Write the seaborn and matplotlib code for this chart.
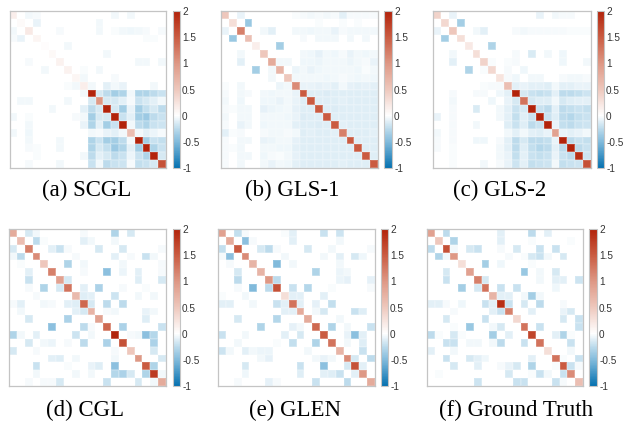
import matplotlib
matplotlib.use("Agg")
import numpy as np
import matplotlib.pyplot as plt
import seaborn as sns
from matplotlib.colors import LinearSegmentedColormap

# ─────────────────────────────────────────────
# DATA  (20x20 symmetric matrices: diagonal + upper-triangle entries)
# ─────────────────────────────────────────────
N = 20
titles = ["(a) SCGL", "(b) GLS-1", "(c) GLS-2", "(d) CGL", "(e) GLEN", "(f) Ground Truth"]
cbar_ticks = [-1, -0.5, 0, 0.5, 1, 1.5, 2]
cbar_labels = ["-1", "-0.5", "0", "0.5", "1", "1.5", "2"]

diag_a = [0.15, 0.05, 0.2, 0.1, 0.03, 0.06, 0.12, 0.12, 0.08, 0.15,
          2.0, 1.0, 2.0, 2.0, 2.0, 0.6, 2.0, 2.0, 2.0, 1.6]
edges_a = [
    (0, 2, -0.05), (0, 3, -0.03), (0, 13, -0.05), (0, 15, -0.04), (1, 3, -0.08),
    (1, 11, -0.05), (2, 6, -0.03), (2, 11, -0.04), (2, 13, -0.02), (2, 14, -0.05),
    (2, 15, -0.06), (2, 16, -0.04), (2, 17, -0.03), (2, 19, -0.03), (3, 17, -0.02),
    (3, 18, -0.02), (4, 7, -0.05), (5, 12, -0.05), (6, 16, -0.04), (6, 17, -0.04),
    (6, 19, -0.04), (7, 9, -0.02), (7, 11, -0.05), (8, 9, -0.04), (8, 13, -0.03),
    (9, 10, -0.05), (9, 12, -0.1), (9, 13, -0.04), (9, 14, -0.08), (9, 18, -0.04),
    (10, 11, -0.15), (10, 12, -0.25), (10, 13, -0.35), (10, 14, -0.3), (10, 15, -0.05),
    (10, 16, -0.3), (10, 17, -0.3), (10, 18, -0.25), (10, 19, -0.2),
    (11, 12, -0.15), (11, 13, -0.15), (11, 14, -0.1), (11, 15, -0.03), (11, 16, -0.2),
    (11, 17, -0.15), (11, 18, -0.1), (11, 19, -0.05),
    (12, 13, -0.15), (12, 14, -0.35), (12, 15, -0.08), (12, 16, -0.35), (12, 17, -0.22),
    (12, 18, -0.15), (12, 19, -0.25),
    (13, 14, -0.2), (13, 15, -0.1), (13, 16, -0.35), (13, 17, -0.38), (13, 18, -0.25),
    (13, 19, -0.2),
    (14, 15, -0.05), (14, 16, -0.25), (14, 17, -0.3), (14, 18, -0.2), (14, 19, -0.18),
    (15, 16, -0.05), (15, 17, -0.1), (15, 18, -0.07), (15, 19, -0.03),
    (16, 17, -0.35), (16, 18, -0.2), (16, 19, -0.22),
    (17, 18, -0.3), (17, 19, -0.2),
    (18, 19, -0.15),
]

diag_b = [0.5, 0.3, 1.2, 0.6, 0.15, 0.5, 0.8, 0.7, 0.5, 1.1,
          1.5, 1.5, 1.5, 1.5, 1.5, 1.2, 1.5, 1.5, 1.5, 1.5]
edges_b = [
    (0, 2, -0.08), (1, 3, -0.4), (2, 5, -0.05), (2, 6, -0.1), (4, 7, -0.35),
    (6, 7, -0.05), (6, 8, -0.05), (7, 9, -0.07), (8, 9, -0.04),
    (0, 9, -0.02), (0, 10, -0.03), (0, 11, -0.04), (0, 12, -0.03), (0, 13, -0.05),
    (0, 14, -0.03), (0, 15, -0.1), (0, 16, -0.03), (0, 17, -0.03), (0, 18, -0.03),
    (0, 19, -0.03), (1, 12, -0.02), (1, 15, -0.02), (1, 17, -0.02),
    (2, 9, -0.04), (2, 10, -0.05), (2, 11, -0.06), (2, 12, -0.05), (2, 13, -0.05),
    (2, 14, -0.08), (2, 15, -0.03), (2, 16, -0.05), (2, 17, -0.04), (2, 18, -0.04),
    (2, 19, -0.04), (3, 10, -0.03), (3, 12, -0.05), (3, 13, -0.04), (3, 14, -0.05),
    (3, 16, -0.05), (3, 18, -0.04),
    (5, 10, -0.05), (5, 11, -0.06), (5, 12, -0.09), (5, 13, -0.05), (5, 14, -0.06),
    (5, 15, -0.03), (5, 16, -0.08), (5, 17, -0.05), (5, 18, -0.06), (5, 19, -0.05),
    (6, 10, -0.06), (6, 11, -0.06), (6, 12, -0.07), (6, 13, -0.05), (6, 14, -0.05),
    (6, 15, -0.04), (6, 16, -0.07), (6, 17, -0.05), (6, 18, -0.03), (6, 19, -0.08),
    (7, 10, -0.05), (7, 11, -0.08), (7, 12, -0.06), (7, 13, -0.04), (7, 14, -0.05),
    (7, 15, -0.04), (7, 16, -0.05), (7, 17, -0.06), (7, 18, -0.02), (7, 19, -0.05),
    (8, 10, -0.05), (8, 11, -0.04), (8, 12, -0.05), (8, 13, -0.06), (8, 14, -0.05),
    (8, 15, -0.03), (8, 16, -0.05), (8, 17, -0.06), (8, 18, -0.05), (8, 19, -0.06),
    (9, 10, -0.08), (9, 11, -0.08), (9, 12, -0.09), (9, 13, -0.08), (9, 14, -0.1),
    (9, 15, -0.04), (9, 16, -0.09), (9, 17, -0.1), (9, 18, -0.09), (9, 19, -0.1),
    (10, 11, -0.12), (10, 12, -0.12), (10, 13, -0.13), (10, 14, -0.12), (10, 15, -0.11),
    (10, 16, -0.12), (10, 17, -0.12), (10, 18, -0.12), (10, 19, -0.12),
    (11, 12, -0.12), (11, 13, -0.12), (11, 14, -0.12), (11, 15, -0.1), (11, 16, -0.12),
    (11, 17, -0.12), (11, 18, -0.12), (11, 19, -0.12),
    (12, 13, -0.12), (12, 14, -0.13), (12, 15, -0.11), (12, 16, -0.12), (12, 17, -0.12),
    (12, 18, -0.12), (12, 19, -0.12),
    (13, 14, -0.12), (13, 15, -0.11), (13, 16, -0.12), (13, 17, -0.12), (13, 18, -0.12),
    (13, 19, -0.12),
    (14, 15, -0.1), (14, 16, -0.12), (14, 17, -0.12), (14, 18, -0.12), (14, 19, -0.12),
    (15, 16, -0.11), (15, 17, -0.11), (15, 18, -0.11), (15, 19, -0.1),
    (16, 17, -0.12), (16, 18, -0.12), (16, 19, -0.12),
    (17, 18, -0.12), (17, 19, -0.12),
    (18, 19, -0.12),
]

diag_c = [0.4, 0.35, 0.5, 0.3, 0.2, 0.3, 0.4, 0.35, 0.25, 0.6,
          2.0, 1.3, 2.0, 2.0, 2.0, 0.9, 2.0, 2.0, 1.9, 1.6]
edges_c = [
    (0, 2, -0.08), (1, 3, -0.35), (2, 5, -0.04), (2, 6, -0.1), (4, 7, -0.3),
    (6, 7, -0.02), (8, 9, -0.03), (6, 9, -0.02),
    (0, 13, -0.08), (0, 15, -0.05), (0, 16, -0.03), (0, 17, -0.03),
    (2, 10, -0.03), (2, 11, -0.04), (2, 12, -0.03), (2, 13, -0.03), (2, 14, -0.03),
    (2, 15, -0.03), (2, 16, -0.03), (2, 17, -0.02), (2, 18, -0.02), (2, 19, -0.02),
    (5, 10, -0.03), (5, 12, -0.14), (5, 14, -0.04), (5, 16, -0.06),
    (6, 10, -0.03), (6, 16, -0.06), (6, 19, -0.05), (7, 9, -0.03), (7, 11, -0.06),
    (8, 10, -0.06), (8, 12, -0.05), (8, 13, -0.05), (8, 16, -0.03), (8, 17, -0.04),
    (8, 18, -0.04), (8, 19, -0.03),
    (9, 10, -0.1), (9, 11, -0.08), (9, 12, -0.1), (9, 13, -0.1), (9, 14, -0.12),
    (9, 15, -0.05), (9, 16, -0.1), (9, 17, -0.1), (9, 18, -0.08), (9, 19, -0.08),
    (10, 11, -0.15), (10, 12, -0.2), (10, 13, -0.22), (10, 14, -0.2), (10, 15, -0.1),
    (10, 16, -0.25), (10, 17, -0.25), (10, 18, -0.22), (10, 19, -0.18),
    (11, 12, -0.15), (11, 13, -0.12), (11, 14, -0.12), (11, 15, -0.05), (11, 16, -0.15),
    (11, 17, -0.12), (11, 18, -0.1), (11, 19, -0.1),
    (12, 13, -0.2), (12, 14, -0.25), (12, 15, -0.1), (12, 16, -0.25), (12, 17, -0.22),
    (12, 18, -0.2), (12, 19, -0.22),
    (13, 14, -0.2), (13, 15, -0.12), (13, 16, -0.25), (13, 17, -0.28), (13, 18, -0.22),
    (13, 19, -0.2),
    (14, 15, -0.08), (14, 16, -0.22), (14, 17, -0.25), (14, 18, -0.2), (14, 19, -0.18),
    (15, 16, -0.08), (15, 17, -0.1), (15, 18, -0.08), (15, 19, -0.05),
    (16, 17, -0.25), (16, 18, -0.2), (16, 19, -0.22),
    (17, 18, -0.25), (17, 19, -0.2),
    (18, 19, -0.18),
]

diag_d = [0.8, 0.6, 1.2, 1.1, 0.5, 1.2, 0.9, 1.3, 0.65, 1.4,
          0.7, 0.9, 1.4, 2.0, 1.6, 0.5, 1.0, 1.5, 1.8, 0.8]
edges_d = [
    (0, 2, -0.15), (0, 3, -0.04), (0, 9, -0.03), (0, 13, -0.3), (0, 15, -0.15),
    (1, 3, -0.25), (1, 4, -0.02), (1, 9, -0.1), (1, 10, -0.05), (1, 13, -0.05),
    (2, 5, -0.1), (2, 6, -0.2), (2, 7, -0.03), (2, 11, -0.15), (2, 14, -0.15), (2, 19, -0.03),
    (3, 8, -0.03), (3, 13, -0.1), (3, 15, -0.03), (3, 17, -0.2), (3, 18, -0.05),
    (4, 7, -0.3), (4, 9, -0.05), (4, 14, -0.04), (4, 19, -0.03),
    (5, 9, -0.03), (5, 12, -0.45), (5, 14, -0.07), (5, 16, -0.1), (5, 19, -0.03),
    (6, 7, -0.15), (6, 16, -0.12), (6, 19, -0.15),
    (7, 9, -0.1), (7, 11, -0.32), (7, 14, -0.03), (7, 17, -0.02),
    (8, 9, -0.12), (8, 10, -0.1), (8, 13, -0.18), (8, 16, -0.04), (8, 18, -0.04),
    (9, 10, -0.15), (9, 12, -0.25), (9, 14, -0.25),
    (10, 12, -0.03), (10, 13, -0.05), (10, 17, -0.08), (10, 18, -0.05),
    (11, 17, -0.12),
    (12, 14, -0.32), (12, 19, -0.2),
    (13, 15, -0.03), (13, 16, -0.05), (13, 17, -0.45), (13, 18, -0.28),
    (14, 18, -0.32), (15, 18, -0.15), (16, 19, -0.15), (17, 18, -0.3), (18, 19, -0.05),
]

diag_e = [0.9, 0.8, 1.5, 1.1, 0.7, 0.7, 1.0, 1.6, 0.3, 1.3,
          0.8, 0.8, 1.4, 1.5, 1.3, 0.7, 1.1, 1.6, 1.0, 0.8]
edges_e = [
    (0, 2, -0.22), (0, 3, -0.03), (0, 8, -0.02), (0, 9, -0.1), (0, 13, -0.2), (0, 15, -0.18),
    (1, 3, -0.45), (1, 4, -0.03), (1, 9, -0.1), (1, 15, -0.04),
    (2, 5, -0.15), (2, 6, -0.25), (2, 7, -0.03), (2, 11, -0.15), (2, 14, -0.05), (2, 19, -0.03),
    (3, 8, -0.05), (3, 13, -0.04), (3, 15, -0.1), (3, 17, -0.15), (3, 18, -0.06),
    (4, 7, -0.5), (4, 9, -0.05), (4, 15, -0.04),
    (5, 12, -0.3), (5, 15, -0.07), (5, 16, -0.05),
    (6, 7, -0.25), (6, 15, -0.07), (6, 16, -0.09), (6, 19, -0.09),
    (7, 9, -0.2), (7, 11, -0.28), (7, 14, -0.02), (7, 19, -0.03),
    (8, 9, -0.1), (8, 10, -0.1), (8, 13, -0.1),
    (9, 10, -0.1), (9, 12, -0.09), (9, 14, -0.22),
    (10, 12, -0.05), (10, 13, -0.15), (10, 17, -0.2), (10, 18, -0.12),
    (11, 15, -0.05),
    (12, 14, -0.3), (12, 16, -0.04), (12, 19, -0.2),
    (13, 16, -0.08), (13, 17, -0.45), (13, 18, -0.1),
    (14, 16, -0.04), (14, 18, -0.12),
    (15, 18, -0.2), (16, 17, -0.15), (16, 19, -0.25), (17, 18, -0.1),
]

diag_f = [0.9, 0.5, 1.6, 1.0, 0.3, 0.9, 1.2, 1.3, 0.7, 1.9,
          1.2, 0.35, 1.3, 1.7, 1.3, 0.3, 1.3, 1.5, 1.1, 0.6]
edges_f = [
    (0, 2, -0.25), (0, 9, -0.1), (0, 13, -0.25), (0, 15, -0.1),
    (1, 3, -0.3), (1, 9, -0.1), (1, 13, -0.02), (1, 18, -0.02),
    (2, 3, -0.04), (2, 5, -0.15), (2, 6, -0.2), (2, 9, -0.03), (2, 11, -0.15),
    (2, 14, -0.2), (2, 16, -0.2),
    (3, 10, -0.03), (3, 12, -0.02), (3, 13, -0.15), (3, 14, -0.2), (3, 15, -0.04), (3, 17, -0.15),
    (4, 7, -0.35), (4, 9, -0.06), (4, 13, -0.02),
    (5, 12, -0.4), (5, 14, -0.04), (5, 16, -0.15),
    (6, 7, -0.15), (6, 14, -0.04), (6, 16, -0.1), (6, 17, -0.1), (6, 19, -0.18),
    (7, 9, -0.2), (7, 11, -0.2), (7, 16, -0.06),
    (8, 9, -0.1), (8, 10, -0.1), (8, 12, -0.04), (8, 13, -0.35), (8, 14, -0.04),
    (9, 10, -0.2), (9, 12, -0.15), (9, 14, -0.25), (9, 17, -0.03),
    (10, 13, -0.1), (10, 17, -0.08), (10, 18, -0.15),
    (11, 17, -0.15), (11, 19, -0.2),
    (12, 14, -0.2), (12, 19, -0.2),
    (13, 16, -0.1), (13, 17, -0.3), (13, 18, -0.02),
    (14, 18, -0.2), (15, 18, -0.05),
    (16, 17, -0.02), (16, 19, -0.2), (17, 18, -0.2), (17, 19, -0.03),
]

# ─────────────────────────────────────────────
# HELPERS
# ─────────────────────────────────────────────

def build(diag, edges):
    m = np.diag(np.array(diag, dtype=float))
    for i, j, w in edges:
        m[i, j] = w
        m[j, i] = w
    return m


def px_rect(x0, y0, x1, y1, W=623, H=425):
    return [x0 / W, 1 - y1 / H, (x1 - x0) / W, (y1 - y0) / H]


mats = [build(diag_a, edges_a), build(diag_b, edges_b), build(diag_c, edges_c),
        build(diag_d, edges_d), build(diag_e, edges_e), build(diag_f, edges_f)]

# pixel boxes: heatmap (x0, y0, x1, y1), colorbar x0, x1, caption centre x
heat_boxes = [(9.5, 11, 166, 168), (221, 11, 378, 168), (433, 11, 591, 168),
              (9, 229, 166, 386), (218, 229, 375, 386), (427, 229, 583, 386)]
cbar_x = [(173, 180), (384, 392), (597, 604), (173, 180), (381, 388), (589, 597)]
cap_x = [87, 292, 500, 85, 295, 516]

# blue-white-red, white at 0 (value range -1 .. 2); mid-tones a bit saturated
cmap = LinearSegmentedColormap.from_list("rdbu_asym", [
    (0.0, "#0571b0"),
    (1 / 6, "#82bbdc"),
    (0.25, "#bcdbec"),
    (1 / 3, "#ffffff"),
    (0.5, "#eec8bd"),
    (2 / 3, "#de9885"),
    (5 / 6, "#ca5c42"),
    (1.0, "#b2230b"),
])

# ─────────────────────────────────────────────
# PLOT
# ─────────────────────────────────────────────
fig = plt.figure(figsize=(6.23, 4.25), dpi=100)

for k, m in enumerate(mats):
    x0, y0, x1, y1 = heat_boxes[k]
    ax = fig.add_axes(px_rect(x0, y0, x1, y1))
    cax = fig.add_axes(px_rect(cbar_x[k][0], y0, cbar_x[k][1], y1))
    sns.heatmap(m, ax=ax, cbar_ax=cax, cmap=cmap, vmin=-1, vmax=2,
                xticklabels=False, yticklabels=False,
                linewidths=0.2, linecolor=(1, 1, 1, 0.15))
    for sp in ax.spines.values():
        sp.set_visible(True)
        sp.set_color("#c4c4c4")
        sp.set_linewidth(0.9)
    cb = ax.collections[0].colorbar
    cb.set_ticks(cbar_ticks)
    cb.set_ticklabels(cbar_labels)
    cb.outline.set_edgecolor("#c4c4c4")
    cb.outline.set_linewidth(0.8)
    cax.tick_params(length=0, pad=1.5, labelsize=7.2, labelcolor="#333333")
    for t in cax.get_yticklabels():
        t.set_fontfamily("Liberation Sans")

    cap_y = 190 if k < 3 else 410
    fig.text(cap_x[k] / 623, 1 - cap_y / 425, titles[k], ha="center", va="center",
             fontsize=16.5, family="Liberation Serif")

plt.savefig("out.png", dpi=100)
plt.close()
